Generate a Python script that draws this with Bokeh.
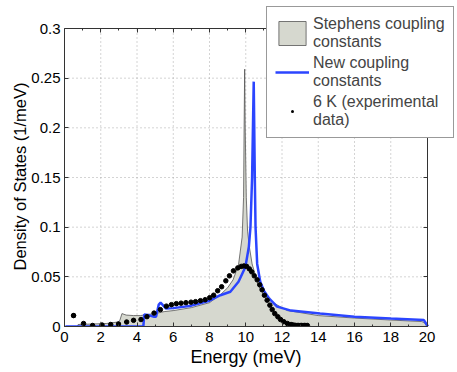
from bokeh.plotting import figure
from bokeh.models import Legend, LegendItem, LinearAxis, Range1d, FixedTicker, Title
from bokeh.embed import file_html
from bokeh.resources import INLINE

# Stephens coupling constants (gray area)
gray_x = [0.72, 0.75, 1.5, 2.3, 2.95, 3.05, 3.17, 3.4, 3.8, 4.2, 4.5, 5.0, 5.5, 6.0, 7.0, 8.0,
          8.6, 9.0, 9.3, 9.6, 9.8, 9.88, 9.91, 9.94, 9.97, 10.03, 10.1, 10.2, 10.35, 10.7, 11.0,
          11.5, 12.3, 13.0, 14.0, 16.0, 18.0, 19.7, 19.85, 20.0]
gray_y = [0.0, 0.002, 0.0025, 0.003, 0.0045, 0.006, 0.013, 0.0115, 0.011, 0.011, 0.012, 0.013,
          0.015, 0.016, 0.019, 0.024, 0.032, 0.039, 0.047, 0.062, 0.09, 0.13, 0.2, 0.259, 0.2,
          0.13, 0.096, 0.08, 0.063, 0.041, 0.032, 0.024, 0.016, 0.014, 0.011, 0.0085, 0.0065,
          0.005, 0.004, 0.0]

# New coupling constants (blue line)
blue_x = [0.05, 4.35, 4.4, 4.6, 4.95, 5.05, 5.2, 5.3, 5.6, 6.0, 7.0, 8.0, 8.6, 9.15, 9.6, 9.98,
          10.17, 10.26, 10.35, 10.44, 10.5, 10.54, 10.63, 10.8, 11.0, 11.3, 11.73, 12.5, 14.1,
          16.0, 18.0, 19.83, 20.05]
blue_y = [0.0, 0.0, 0.012, 0.0115, 0.0098, 0.0098, 0.022, 0.024, 0.018, 0.0185, 0.021, 0.026,
          0.0315, 0.035, 0.045, 0.06, 0.08, 0.1, 0.15, 0.2465, 0.15, 0.1, 0.063, 0.045, 0.036,
          0.028, 0.02, 0.016, 0.013, 0.0098, 0.008, 0.0065, 0.0]

# 6 K experimental data
exp_x = [0.5, 1.05, 1.55, 2.07, 2.55, 2.98, 3.43, 3.81, 4.22, 4.55, 4.94, 5.29, 5.62, 5.9, 6.17,
         6.43, 6.7, 6.98, 7.23, 7.5, 7.76, 8.01, 8.23, 8.45, 8.67, 8.9, 9.1, 9.32, 9.56, 9.75,
         9.9, 10.05, 10.2, 10.33, 10.47, 10.63, 10.77, 10.9, 11.03, 11.18, 11.33, 11.46, 11.6,
         11.77, 11.92, 12.1, 12.3, 12.5, 12.6, 12.68, 12.76, 12.84, 12.92, 13.0, 13.08, 13.16,
         13.24, 13.32, 13.4]
exp_y = [0.011, 0.003, 0.001, 0.0015, 0.002, 0.0025, 0.0045, 0.0062, 0.007, 0.0099, 0.0135,
         0.017, 0.0205, 0.022, 0.023, 0.0235, 0.024, 0.0245, 0.025, 0.026, 0.027, 0.029, 0.0315,
         0.036, 0.04, 0.046, 0.051, 0.056, 0.059, 0.0605, 0.061, 0.0605, 0.058, 0.055, 0.051,
         0.047, 0.042, 0.037, 0.0315, 0.0265, 0.0215, 0.017, 0.013, 0.0098, 0.007, 0.0048,
         0.003, 0.002, 0.0015, 0.0012, 0.0011, 0.001, 0.001, 0.001, 0.001, 0.001, 0.001,
         0.001, 0.001]

x_ticks = [0, 2, 4, 6, 8, 10, 12, 14, 16, 18, 20]
x_minor = list(range(0, 21))
y_ticks = [0, 0.05, 0.1, 0.15, 0.2, 0.25, 0.3]
y_tick_labels = {0: "0", 0.05: "0.05", 0.1: "0.1", 0.15: "0.15", 0.2: "0.2", 0.25: "0.25", 0.3: "0.3"}
X_MIN, X_MAX = 0, 20
Y_MIN, Y_MAX = 0, 0.3
x_label = "Energy (meV)"
y_label = "Density of States (1/meV)"

FONT = "Liberation Sans"
AX = "#333333"

W, H = 455, 370
ML, MB = 64, 44              # left / bottom borders (px)
PLOT_W, PLOT_H = 362.5, 298  # size of the 0..20 x 0..0.3 box (px)
frame_w, frame_h = W - ML, H - MB
x_end = X_MAX * frame_w / PLOT_W
y_end = Y_MAX * frame_h / PLOT_H

p = figure(width=W, height=H, x_range=Range1d(X_MIN, x_end), y_range=Range1d(Y_MIN, y_end),
           output_backend="svg", toolbar_location=None,
           min_border_left=ML, min_border_right=0, min_border_top=0, min_border_bottom=MB)
p.background_fill_color = "white"
p.border_fill_color = "white"
p.outline_line_color = None
p.xgrid.visible = False
p.ygrid.visible = False

# dotted grid at the major ticks, inside the box
p.segment(x0=x_ticks[1:-1], y0=[Y_MIN] * (len(x_ticks) - 2), x1=x_ticks[1:-1],
          y1=[Y_MAX] * (len(x_ticks) - 2), line_color="#a8a8a8", line_dash="1 3", line_width=1)
p.segment(x0=[X_MIN] * (len(y_ticks) - 2), y0=y_ticks[1:-1], x1=[X_MAX] * (len(y_ticks) - 2),
          y1=y_ticks[1:-1], line_color="#a8a8a8", line_dash="1 3", line_width=1)

# gray area closed down to the baseline
patch_x = [gray_x[0]] + gray_x + [gray_x[-1]]
patch_y = [0.0] + gray_y + [0.0]
r_gray = p.patch(patch_x, patch_y, fill_color="#d6d8cf", line_color="#555555", line_width=0.8)
r_blue = p.line(blue_x, blue_y, line_color="#2b45ff", line_width=2.5)
# small "dot" marker on the first measured point, used for the legend symbol
r_leg_dot = p.scatter(exp_x[:1], exp_y[:1], marker="dot", size=20, line_color="black",
                      fill_color="black")
r_dots = p.scatter(exp_x, exp_y, marker="circle", size=4.5, fill_color="black", line_color="black")

def style_axis(ax, labels=True):
    ax.axis_line_color = AX
    ax.major_tick_line_color = AX
    ax.minor_tick_line_color = AX
    ax.major_tick_in = 4
    ax.major_tick_out = 0
    ax.minor_tick_in = 0
    ax.minor_tick_out = 0
    if labels:
        ax.major_label_text_font = FONT
        ax.major_label_text_font_size = "15px"
        ax.major_label_text_color = "black"
    else:
        ax.major_label_text_font_size = "0px"
        ax.major_label_standoff = 0

xa, ya = p.xaxis[0], p.yaxis[0]
style_axis(xa)
style_axis(ya)
xa.ticker = FixedTicker(ticks=x_ticks, minor_ticks=x_minor)
xa.minor_tick_in = 2
xa.bounds = (X_MIN, X_MAX)
ya.ticker = FixedTicker(ticks=y_ticks)
ya.bounds = (Y_MIN, Y_MAX)
ya.major_label_overrides = y_tick_labels
xa.major_label_standoff = 5
ya.major_label_standoff = 4

# axis titles, positioned relative to the 0..20 / 0..0.3 box
xt = Title(text=x_label, align="left", offset=126, text_font=FONT, text_font_size="18px",
           text_font_style="normal", text_color="black", standoff=0)
yt = Title(text=y_label, align="left", offset=56, text_font=FONT, text_font_size="16.5px",
           text_font_style="normal", text_color="black", standoff=0)
p.add_layout(xt, "below")
p.add_layout(yt, "left")

# box edges on top and right, ticks only
top = LinearAxis(ticker=FixedTicker(ticks=x_ticks, minor_ticks=x_minor), fixed_location=Y_MAX,
                 bounds=(X_MIN, X_MAX))
right = LinearAxis(ticker=FixedTicker(ticks=y_ticks), fixed_location=X_MAX, bounds=(Y_MIN, Y_MAX))
style_axis(top, labels=False)
style_axis(right, labels=False)
top.minor_tick_in = 2
p.add_layout(top, "above")
p.add_layout(right, "right")

legend = Legend(items=[
    LegendItem(label="Stephens coupling\nconstants", renderers=[r_gray]),
    LegendItem(label="New coupling\nconstants", renderers=[r_blue]),
    LegendItem(label="6 K (experimental\ndata)", renderers=[r_leg_dot]),
], location=(202, 188))
legend.label_text_font = FONT
legend.label_text_font_size = "16px"
legend.label_text_line_height = 1.15
legend.glyph_width = 34
legend.glyph_height = 30
legend.label_standoff = 4
legend.padding = 8
legend.spacing = 3
legend.margin = 0
legend.border_line_color = AX
legend.border_line_width = 1
legend.background_fill_color = "white"
legend.background_fill_alpha = 1
p.add_layout(legend, "center")

open("out.html", "w").write(file_html(p, INLINE))
